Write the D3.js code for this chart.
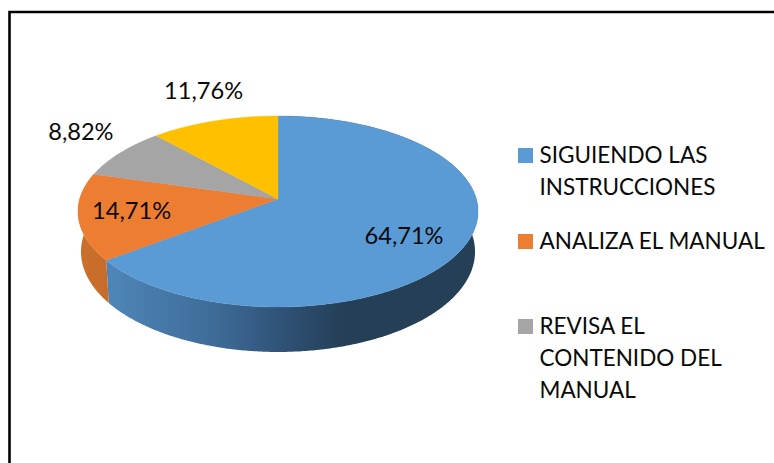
<!DOCTYPE html>
<html><head><meta charset="utf-8">
<script src="https://cdn.jsdelivr.net/npm/d3@7"></script>
<style>html,body{margin:0;padding:0;background:#fff}svg{display:block}text{font-family:Lato,"Open Sans",sans-serif;fill:#0a0a0a}</style>
</head><body><svg id="c" width="774" height="463"></svg>
<script>
const categories = ["SIGUIENDO LAS INSTRUCCIONES","ANALIZA EL MANUAL","REVISA EL CONTENIDO DEL MANUAL","OTROS"];
const values = [64.71,14.71,8.82,11.76];
const valueLabels = ["64,71%","14,71%","8,82%","11,76%"];
const colors = ["#5B9BD5","#ED7D31","#A5A5A5","#FFC000"];
const legendLines = [["SIGUIENDO LAS","INSTRUCCIONES"],["ANALIZA EL MANUAL"],["REVISA EL","CONTENIDO DEL","MANUAL"]];

const W=774,H=463;
const svg=d3.select("#c");
// perspective disc
const apex={x:278,y:199},a=198.3,b=93.85,k=0.1307;
const project=(t,r=1,sx=1,sy=1,cy=apex.y)=>{
  const d=1+k*r*Math.cos(t);
  return [apex.x+sx*a*r*Math.sin(t)/d, cy-sy*b*r*Math.cos(t)/d];
};
const bottom={sx:0.985,sy:1.05,cy:238.6};
const pie=d3.pie().sort(null).value(d=>d)(values);
const line=d3.line();
const steps=(s,e)=>{const n=Math.max(2,Math.ceil((e-s)/0.01));return d3.range(n+1).map(i=>s+(e-s)*i/n);};

const defs=svg.append("defs");
const g1=defs.append("linearGradient").attr("id","sideBlue").attr("gradientUnits","userSpaceOnUse").attr("x1",106).attr("x2",345).attr("y1",0).attr("y2",0);
[[0,"#4F86B9"],[0.45,"#3E6C98"],[0.75,"#2F5175"],[1,"#243F56"]].forEach(([o,c])=>g1.append("stop").attr("offset",o).attr("stop-color",c));
const g2=defs.append("linearGradient").attr("id","sideOrange").attr("gradientUnits","userSpaceOnUse").attr("x1",80).attr("x2",110).attr("y1",0).attr("y2",0);
[[0,"#C9702C"],[1,"#C76B29"]].forEach(([o,c])=>g2.append("stop").attr("offset",o).attr("stop-color",c));

// border (only the top and left edges fall inside the frame)
svg.append("path").attr("d",line([[9.5,H],[9.5,12],[W,12]])).attr("fill","none").attr("stroke","#000").attr("stroke-width",2.6);

// side wall: only the near half of the disc is drawn
const sideFills=["url(#sideBlue)","url(#sideOrange)"];
pie.slice(0,2).forEach((p,i)=>{
  const ts=steps(p.startAngle,p.endAngle);
  const top=ts.map(t=>project(t));
  const bot=ts.map(t=>project(t,1,bottom.sx,bottom.sy,bottom.cy)).reverse();
  svg.append("path").attr("d",line(top.concat(bot))+"Z").attr("fill",sideFills[i]);
});
// top face
svg.selectAll("path.slice").data(pie).enter().append("path").attr("class","slice")
  .attr("fill",(d,i)=>colors[i]).attr("stroke",(d,i)=>colors[i]).attr("stroke-width",0.4)
  .attr("d",d=>line([[apex.x,apex.y]].concat(steps(d.startAngle,d.endAngle).map(t=>project(t))))+"Z");

// data labels
const labelRadius=[0.7,0.75,1.3,1.19], labelShift=[[-3.5,14.4],[2.5,7],[4,0],[0,-9]];
svg.selectAll("text.val").data(pie).enter().append("text").attr("class","val")
  .attr("text-anchor","middle").attr("font-size",23.6)
  .attr("x",(d,i)=>project((d.startAngle+d.endAngle)/2,labelRadius[i])[0]+labelShift[i][0])
  .attr("y",(d,i)=>project((d.startAngle+d.endAngle)/2,labelRadius[i])[1]+labelShift[i][1])
  .text((d,i)=>valueLabels[i]);

// legend
const legendTop=[148,234,319], lineH=32;
legendLines.forEach((ls,i)=>{
  svg.append("rect").attr("x",518).attr("y",legendTop[i]).attr("width",15).attr("height",15).attr("fill",colors[i]);
  ls.forEach((s,j)=>svg.append("text").attr("x",539.5).attr("y",legendTop[i]+15+j*lineH).attr("font-size",22.5).text(s));
});
</script></body></html>
